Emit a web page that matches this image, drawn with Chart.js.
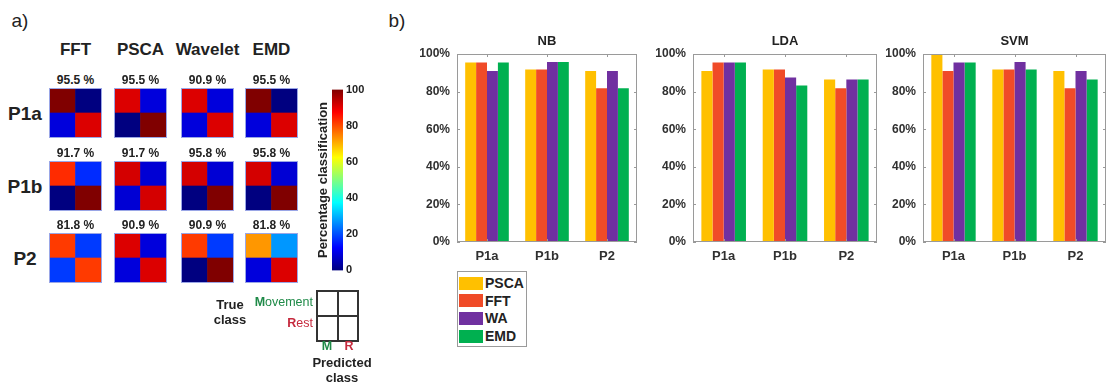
<!DOCTYPE html>
<html>
<head>
<meta charset="utf-8">
<script src="https://cdn.jsdelivr.net/npm/chart.js@4.4.0/dist/chart.umd.min.js"></script>
<style>
body{margin:0;width:1110px;height:386px;background:#fff;position:relative;overflow:hidden;font-family:"Liberation Sans",Arial,sans-serif;color:#222}
.t{position:absolute;white-space:nowrap;line-height:1;transform:translate(-50%,-50%)}
canvas{position:absolute}
canvas.hm{outline:1px solid #9aa6e6}
</style>
</head>
<body>
<script>
// ---------- panel a data ----------
const methods = ['FFT','PSCA','Wavelet','EMD'];
const subjects = ['P1a','P1b','P2'];
// confusion cells per method: [M->M, M->R, R->M, R->R] (%)
const cmP1a = [[100,0,9.1,90.9],[90.9,9.1,0,100],[90.9,9.1,9.1,90.9],[100,0,9.1,90.9]];
const cmP1b = [[83.3,16.7,0,100],[91.7,8.3,8.3,91.7],[91.7,8.3,0,100],[91.7,8.3,0,100]];
const cmP2  = [[81.8,18.2,18.2,81.8],[90.9,9.1,9.1,90.9],[81.8,18.2,0,100],[72.7,27.3,9.1,90.9]];
const accP1a = ['95.5 %','95.5 %','90.9 %','95.5 %'];
const accP1b = ['91.7 %','91.7 %','95.8 %','95.8 %'];
const accP2  = ['81.8 %','90.9 %','90.9 %','81.8 %'];
const cbTicks = [0,20,40,60,80,100];

// ---------- panel b data ----------
const groups = ['P1a','P1b','P2'];
const features = ['PSCA','FFT','WA','EMD'];
const featColors = ['#ffc000','#f04b28','#7030a0','#00b050'];
const nbVals  = [[95.5,91.7,90.9],[95.5,91.7,81.8],[90.9,95.8,90.9],[95.5,95.8,81.8]];
const ldaVals = [[90.9,91.7,86.4],[95.5,91.7,81.8],[95.5,87.5,86.4],[95.5,83.3,86.4]];
const svmVals = [[100,91.7,90.9],[90.9,91.7,81.8],[95.5,95.8,90.9],[95.5,91.7,86.4]];

// ---------- helpers ----------
function txt(s, x, y, css){
  const d = document.createElement('div');
  d.className = 't';
  d.innerHTML = s;
  d.style.left = x+'px'; d.style.top = y+'px';
  if(css) d.style.cssText += css;
  document.body.appendChild(d);
  return d;
}
function mk(x, y, w, h, cls){
  const c = document.createElement('canvas');
  c.width = w; c.height = h;
  c.style.left = x+'px'; c.style.top = y+'px';
  if(cls) c.className = cls;
  document.body.appendChild(c);
  return c;
}
function jet(v){
  const t = v/100, cl = a => Math.max(0, Math.min(1, a));
  const r = cl(1.5-Math.abs(4*t-3)), g = cl(1.5-Math.abs(4*t-2)), b = cl(1.5-Math.abs(4*t-1));
  return `rgb(${Math.round(r*255)},${Math.round(g*255)},${Math.round(b*255)})`;
}
Chart.defaults.font.family = '"Liberation Sans", Arial, sans-serif';
Chart.defaults.animation = false;

// ---------- panel a ----------
txt('a)', 20, 20, 'font-size:19px');
const colX = [50,115,182,246], rowY = [89,162,234], hw = 51, hh = 48;
methods.forEach((m,i)=> txt(m, colX[i]+hw/2, 49, 'font-size:17px;font-weight:bold'));
const cms = [cmP1a, cmP1b, cmP2], accs = [accP1a, accP1b, accP2];
subjects.forEach((s,r)=>{
  txt(s, 25, rowY[r]+24, 'font-size:19px;font-weight:bold');
  methods.forEach((m,i)=>{
    txt(accs[r][i], colX[i]+hw/2, rowY[r]-9, 'font-size:12px;font-weight:bold');
    const cm = cms[r][i];
    new Chart(mk(colX[i], rowY[r], hw, hh, 'hm'), {
      type:'bar',
      data:{labels:['M','R'], datasets:[
        {data:[1,1], backgroundColor:[jet(cm[2]), jet(cm[3])]},
        {data:[1,1], backgroundColor:[jet(cm[0]), jet(cm[1])]}
      ]},
      options:{responsive:false, events:[], layout:{padding:0},
        plugins:{legend:{display:false}, tooltip:{enabled:false}},
        datasets:{bar:{barPercentage:1, categoryPercentage:1, borderWidth:0}},
        scales:{x:{display:false, stacked:true}, y:{display:false, stacked:true, min:0, max:2}}}
    });
  });
});

// colorbar
new Chart(mk(332, 80, 41, 200), {
  type:'bar',
  data:{labels:[''], datasets:[{data:[[0,100]], backgroundColor:(c)=>{
    const a = c.chart.chartArea; if(!a) return '#000';
    const gr = c.chart.ctx.createLinearGradient(0, a.bottom, 0, a.top);
    for(let i=0;i<=8;i++) gr.addColorStop(i/8, jet(i*12.5));
    return gr;
  }}]},
  options:{responsive:false, events:[], layout:{padding:{top:7,bottom:7,left:0,right:0}},
    plugins:{legend:{display:false}, tooltip:{enabled:false}},
    datasets:{bar:{barPercentage:1, categoryPercentage:1, borderWidth:0}},
    scales:{
      x:{display:false},
      y:{position:'right', min:0, max:100, afterFit:s=>{s.width=30},
        afterBuildTicks:s=>{s.ticks = cbTicks.map(v=>({value:v}))},
        grid:{display:false, drawTicks:false}, border:{display:false},
        ticks:{padding:3, color:'#222', font:{size:11, weight:'bold'}}}
    }}
});
txt('Percentage classification', 322, 180, 'font-size:13px;font-weight:bold;transform:translate(-50%,-50%) rotate(-90deg)');

// true / predicted class key
const key = document.createElement('div');
key.style.cssText = 'position:absolute;left:316px;top:290px;width:43px;height:52px;box-sizing:border-box;border:2px solid #333';
key.innerHTML = '<div style="position:absolute;left:50%;top:0;bottom:0;width:2px;margin-left:-1px;background:#333"></div><div style="position:absolute;top:50%;left:0;right:0;height:2px;margin-top:-1px;background:#333"></div>';
document.body.appendChild(key);
const mGreen = '#1f8a48', rRed = '#c62a3e';
txt('True', 230, 304, 'font-size:13px;font-weight:bold');
txt('class', 230, 319, 'font-size:13px;font-weight:bold');
txt('<b>M</b>ovement', 0, 302, `font-size:12.5px;color:${mGreen};left:auto;right:${1110-313}px;transform:translate(0,-50%)`);
txt('<b>R</b>est', 0, 323, `font-size:12.5px;color:${rRed};left:auto;right:${1110-313}px;transform:translate(0,-50%)`);
txt('M', 327, 346, `font-size:12.5px;font-weight:bold;color:${mGreen}`);
txt('R', 349, 346, `font-size:12.5px;font-weight:bold;color:${rRed}`);
txt('Predicted', 342, 362, 'font-size:13px;font-weight:bold');
txt('class', 342, 377, 'font-size:13px;font-weight:bold');

// ---------- panel b ----------
txt('b)', 397, 20, 'font-size:19px');

const boxPlugin = {
  id:'box',
  afterDraw(ch){
    const a = ch.chartArea, g = ch.ctx;
    g.save();
    g.strokeStyle = '#9a9a9a'; g.lineWidth = 1;
    g.strokeRect(a.left+0.5, a.top+0.5, a.width-1, a.height-1);
    const ys = ch.scales.y;
    ys.ticks.forEach(t=>{
      const p = Math.round(ys.getPixelForValue(t.value))+0.5;
      g.beginPath(); g.moveTo(a.left, p); g.lineTo(a.left+3, p);
      g.moveTo(a.right, p); g.lineTo(a.right-3, p); g.stroke();
    });
    const xs = ch.scales.x;
    xs.ticks.forEach((t,i)=>{
      const p = Math.round(xs.getPixelForTick(i))+0.5;
      g.beginPath(); g.moveTo(p, a.bottom); g.lineTo(p, a.bottom-3);
      g.moveTo(p, a.top); g.lineTo(p, a.top+3); g.stroke();
    });
    g.restore();
  }
};

function barChart(title, vals, pl, pr, pt, pb){
  const yw = 55, xh = 26, th = 22;
  const left = pl-yw, top = pt-th;
  new Chart(mk(left, top, pr-left+2, pb+xh-top), {
    type:'bar',
    data:{labels:groups, datasets:features.map((f,i)=>({label:f, data:vals[i], backgroundColor:featColors[i]}))},
    options:{responsive:false, events:[], layout:{padding:{left:0,right:2,top:0,bottom:0}},
      datasets:{bar:{barPercentage:1, categoryPercentage:0.727, borderWidth:0}},
      plugins:{legend:{display:false}, tooltip:{enabled:false},
        title:{display:true, text:title, fullSize:false, color:'#222', font:{size:13, weight:'bold'}, padding:{top:2,bottom:4.4}}},
      scales:{
        x:{afterFit:s=>{s.height=xh}, grid:{display:false, drawTicks:false}, border:{display:false},
          ticks:{padding:7, color:'#303030', font:{size:13, weight:'bold'}}},
        y:{min:0, max:100, afterFit:s=>{s.width=yw}, grid:{display:false, drawTicks:false}, border:{display:false},
          ticks:{stepSize:20, padding:7, color:'#303030', font:{size:12, weight:'bold'}, callback:v=>v+'%'}}
      }},
    plugins:[boxPlugin]
  });
}
barChart('NB', nbVals, 457, 637, 54, 242);
barChart('LDA', ldaVals, 693, 877, 54, 242);
barChart('SVM', svmVals, 923, 1106, 54, 242);

// legend
const lg = document.createElement('div');
lg.style.cssText = 'position:absolute;left:457px;top:271px;width:70px;height:76px;box-sizing:border-box;border:1px solid #9a9a9a';
document.body.appendChild(lg);
features.forEach((f,i)=>{
  const y = 283 + i*17.7;
  const sw = document.createElement('div');
  sw.style.cssText = `position:absolute;left:459px;top:${y-6.5}px;width:24px;height:13px;background:${featColors[i]}`;
  document.body.appendChild(sw);
  txt(f, 485, y, 'font-size:14px;font-weight:bold;transform:translate(0,-50%)');
});
</script>
</body>
</html>
